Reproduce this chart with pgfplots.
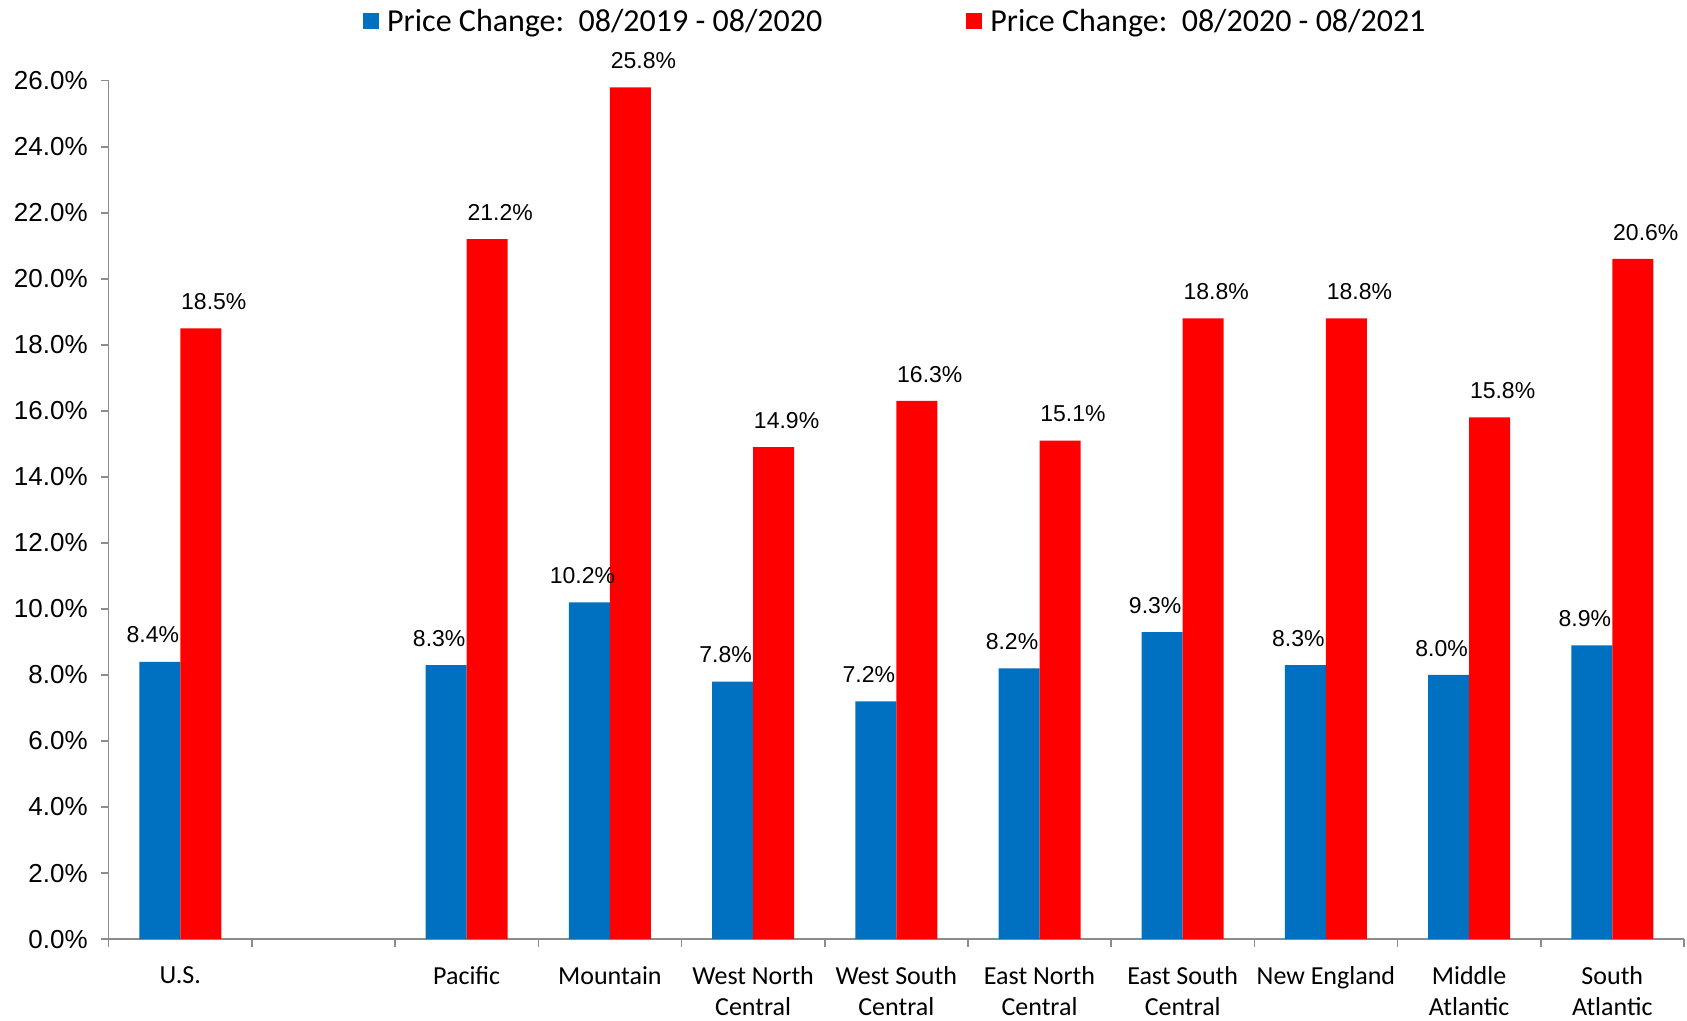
\documentclass[border=0pt]{standalone}
\usepackage{fontspec}
\setmainfont{Carlito}
\newfontfamily\arial{Liberation Sans}
\usepackage{pgfplots}
\pgfplotsset{compat=1.18}
\definecolor{cblue}{HTML}{0070C0}
\definecolor{cred}{HTML}{FF0000}
\definecolor{axgray}{HTML}{8C8C8C}
\begin{document}
\begin{tikzpicture}
\begin{axis}[
  scale only axis,
  width=787.6pt, height=429.2pt,
  ybar=0pt, bar width=20.5pt,
  xmin=-0.5, xmax=10.5,
  ymin=0, ymax=26,
  ytick={0,2,...,26},
  axis x line*=bottom, axis y line*=left,
  axis line style={draw=axgray, line width=0.8pt},
  tick align=outside,
  tick style={draw=axgray, line width=0.8pt},
  xtick={-0.5,0.5,...,10.5},
  xticklabels={},
  extra x ticks={0,2,3,4,5,6,7,8,9,10},
  extra x tick labels={U.S., Pacific, Mountain, West North\\Central, West South\\Central, East North\\Central, East South\\Central, New England, Middle\\Atlantic, South\\Atlantic},
  extra x tick style={major tick length=0pt, tick style={draw=none},
    xticklabel style={font=\fontsize{13}{15.5}\selectfont, align=center, anchor=north, yshift=-10pt}},
  major tick length=4pt,
  /pgf/number format/assume math mode=true,
  yticklabel={\pgfmathprintnumber[fixed,fixed zerofill,precision=1]{\tick}\%},
  yticklabel style={font=\fontsize{13}{15}\selectfont\arial, xshift=-3pt},
  nodes near coords={\pgfmathprintnumber[fixed,fixed zerofill,precision=1,assume math mode=true]{\pgfplotspointmeta}\%},
  nodes near coords style={font=\fontsize{11.5}{13}\selectfont\arial, anchor=center, yshift=13.4pt},
  legend style={at={(0.5,1.069)}, anchor=center, draw=none, fill=none,
    font=\fontsize{16}{18}\selectfont, legend columns=2,
    /tikz/every even column/.append style={column sep=70pt}},
  legend image code/.code={\fill[#1] (0pt,-4pt) rectangle (8pt,4pt);},
  legend cell align=left,
]
\addplot[fill=cblue, draw=none, every node near coord/.append style={xshift=-3.5pt}] coordinates {
(0,8.4) (2,8.3) (3,10.2) (4,7.8) (5,7.2) (6,8.2) (7,9.3) (8,8.3) (9,8.0) (10,8.9)};
\addplot[fill=cred, draw=none, every node near coord/.append style={xshift=6.5pt}] coordinates {
(0,18.5) (2,21.2) (3,25.8) (4,14.9) (5,16.3) (6,15.1) (7,18.8) (8,18.8) (9,15.8) (10,20.6)};
\legend{\hspace{2pt}Price Change:\ \ 08/2019 - 08/2020, \hspace{2pt}Price Change:\ \ 08/2020 - 08/2021}
\end{axis}
\pgfresetboundingbox
\useasboundingbox (-54.35pt,-40.5pt) rectangle (789.15pt,469.55pt);
\end{tikzpicture}
\end{document}
